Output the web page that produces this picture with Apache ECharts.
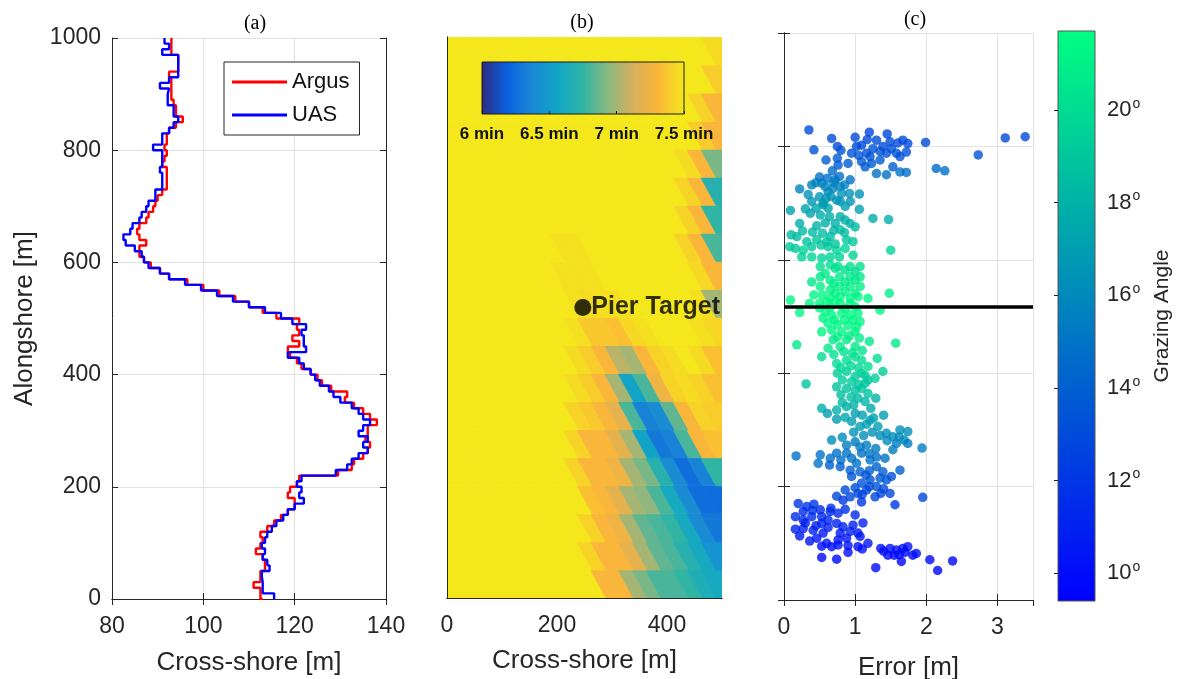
<!DOCTYPE html>
<html>
<head>
<meta charset="utf-8">
<script src="https://cdn.jsdelivr.net/npm/echarts@6/dist/echarts.min.js"></script>
<style>
html, body { margin: 0; padding: 0; background: #fff; }
#chart { width: 1179px; height: 679px; }
</style>
</head>
<body>
<div id="chart"></div>
<script>
// ---- panel (a): shoreline profiles, sampled every 10 m alongshore ----
var alongshore = [0,10,20,30,40,50,60,70,80,90,100,110,120,130,140,150,160,170,180,190,
    200,210,220,230,240,250,260,270,280,290,300,310,320,330,340,350,360,370,380,390,
    400,410,420,430,440,450,460,470,480,490,500,510,520,530,540,550,560,570,580,590,
    600,610,620,630,640,650,660,670,680,690,700,710,720,730,740,750,760,770,780,790,
    800,810,820,830,840,850,860,870,880,890,900,910,920,930,940,950,960,970,980,990,1000];
var argus = [113,112.5,112.5,111,112.5,112.5,113.5,113.5,113,111.5,112.5,113,112.5,114,115.5,117,118.5,120,120,118.5,
    119,120.5,121,129.5,132.5,133,135,136,136.5,135.5,136,136,138,136.5,135,133,131,131.5,128,126,
    125,123.5,121.5,120.5,119,118.5,121,119.5,121,120.5,121,116,113,110,107,103.5,100,96.5,92.5,90.5,
    88.5,87,86,86,87.5,86,85.5,86,87.5,88,89,89.5,90,91,92,92,92,92,91,91.5,
    92,91.5,92,92,92.5,94,95.5,94,94,93.5,93,93,93,93,92.5,94.5,94.5,94.5,93,93,93];
var uas = [115.5,115.5,113,113,112.8,112.8,114.5,114,113,113.5,112.8,113.5,114,115,116,117.5,118.5,120,122,121,
    121.5,120.5,121.5,129,131.5,132.5,134,136,135,136,134,135,136.5,135,134,132.5,130,128.5,127.5,125.5,
    124.5,123.5,122,121,118.5,122.5,122,122,121.5,122.5,119.5,117,113.5,110,106.5,103,99.5,96,92.5,90.5,
    88,87,86.5,85,83,82.5,84,84.5,86,86.5,87.5,88,89.5,89.5,91,91,91,90.5,91,91,
    91,89,91,91,92.5,93.5,94.5,93.5,93.5,92.2,92.2,92.5,90.5,92.5,94.5,94.5,94.5,94.5,91,92.5,91.5];

// ---- panel (b): arrival time field [min], cells 25 m cross-shore x 50 m alongshore ----
var cellCrossShore = [0,25,50,75,100,125,150,175,200,225,250,275,300,325,350,375,400,425,450,475];
var cellAlongshore = [0,50,100,150,200,250,300,350,400,450,500,550,600,650,700,750,800,850,900,950];
var timeRows = [
    [7.5,7.5,7.5,7.5,7.5,7.5,7.5,7.5,7.5,7.5,7.5,7.3,7.3,7.0,6.9,6.8,6.8,6.75,6.65,6.6],
    [7.5,7.5,7.5,7.5,7.5,7.5,7.5,7.5,7.5,7.5,7.42,7.3,7.3,7.2,7.0,6.85,6.8,6.7,6.6,6.45],
    [7.5,7.5,7.5,7.5,7.5,7.5,7.5,7.5,7.5,7.5,7.42,7.3,7.25,7.0,6.85,6.8,6.75,6.6,6.4,6.3],
    [7.5,7.5,7.5,7.5,7.5,7.5,7.5,7.5,7.5,7.5,7.35,7.3,7.2,7.0,6.95,6.8,6.6,6.4,6.25,6.25],
    [7.5,7.5,7.5,7.5,7.5,7.5,7.5,7.5,7.5,7.42,7.3,7.3,7.25,7.0,6.9,6.7,6.4,6.25,6.35,6.75],
    [7.5,7.5,7.5,7.5,7.5,7.5,7.5,7.5,7.5,7.42,7.3,7.3,7.2,7.0,6.55,6.3,6.35,6.8,7.3,7.35],
    [7.5,7.5,7.5,7.5,7.5,7.5,7.5,7.5,7.5,7.42,7.38,7.3,7.2,6.8,6.35,6.4,6.85,7.3,7.42,7.4],
    [7.5,7.5,7.5,7.5,7.5,7.5,7.5,7.5,7.5,7.45,7.4,7.3,7.0,6.55,6.8,7.25,7.42,7.45,7.42,7.35],
    [7.5,7.5,7.5,7.5,7.5,7.5,7.5,7.5,7.5,7.45,7.4,7.3,7.05,7.0,7.3,7.42,7.45,7.5,7.45,7.35],
    [7.5,7.5,7.5,7.5,7.5,7.5,7.5,7.5,7.5,7.47,7.38,7.38,7.35,7.44,7.47,7.5,7.5,7.5,7.47,7.44],
    [7.5,7.5,7.5,7.5,7.5,7.5,7.5,7.5,7.5,7.47,7.45,7.47,7.47,7.5,7.5,7.5,7.5,7.5,7.47,7.0],
    [7.5,7.5,7.5,7.5,7.5,7.5,7.5,7.5,7.47,7.47,7.47,7.5,7.5,7.5,7.5,7.5,7.5,7.5,7.44,7.3],
    [7.5,7.5,7.5,7.5,7.5,7.5,7.5,7.5,7.47,7.47,7.5,7.5,7.5,7.5,7.5,7.5,7.5,7.42,7.3,6.8],
    [7.5,7.5,7.5,7.5,7.5,7.5,7.5,7.5,7.5,7.5,7.5,7.5,7.5,7.5,7.5,7.5,7.5,7.42,7.3,6.75],
    [7.5,7.5,7.5,7.5,7.5,7.5,7.5,7.5,7.5,7.5,7.5,7.5,7.5,7.5,7.5,7.5,7.5,7.42,7.3,6.7],
    [7.5,7.5,7.5,7.5,7.5,7.5,7.5,7.5,7.5,7.5,7.5,7.5,7.5,7.5,7.5,7.5,7.5,7.45,7.3,6.9],
    [7.5,7.5,7.5,7.5,7.5,7.5,7.5,7.5,7.5,7.5,7.5,7.5,7.5,7.5,7.5,7.5,7.5,7.5,7.4,7.3],
    [7.5,7.5,7.5,7.5,7.5,7.5,7.5,7.5,7.5,7.5,7.5,7.5,7.5,7.5,7.5,7.5,7.5,7.5,7.42,7.3],
    [7.5,7.5,7.5,7.5,7.5,7.5,7.5,7.5,7.5,7.5,7.5,7.5,7.5,7.5,7.5,7.5,7.5,7.5,7.5,7.4],
    [7.5,7.5,7.5,7.5,7.5,7.5,7.5,7.5,7.5,7.5,7.5,7.5,7.5,7.5,7.5,7.5,7.5,7.5,7.5,7.45]
];
var timeTicks = [6, 6.5, 7, 7.5];
var pierTarget = [247, 518];

// ---- panel (c): [error m, alongshore m, grazing angle deg] ----
var errorPoints = [
    [0.35,829,13.0],[0.67,814,13.0],[0.42,794,13.3],[0.75,800,13.0],[0.59,776,13.8],[0.75,779,13.8],[0.76,767,13.8],[0.90,770,13.8],
    [1.02,800,13.0],[1.09,802,13.0],[1.17,812,13.0],[1.30,811,13.0],[0.95,788,13.3],[1.16,788,13.3],[1.09,773,13.8],[1.14,764,13.8],
    [1.23,770,13.8],[1.30,752,14.8],[1.44,750,14.8],[1.49,808,13.0],[1.51,796,13.3],[1.58,788,13.3],[1.44,788,13.3],[1.35,791,13.3],
    [1.67,811,13.0],[1.74,805,13.0],[1.72,790,13.3],[1.63,782,13.3],[1.53,764,13.8],[1.63,755,14.8],[1.72,754,14.8],[1.99,807,13.0],
    [2.14,761,14.5],[2.26,757,14.8],[2.73,785,13.3],[3.11,815,13.0],[3.39,817,13.0],[1.21,782,13.3],[1.39,800,13.0],
    [0.80,793,13.3],[1.25,796,13.3],[1.05,784,13.5],[1.35,776,13.8],[1.60,806,13.0],[1.45,822,12.8],[1.20,825,12.8],[1.00,816,13.0],
    [0.22,725,15.8],[0.39,732,15.8],[0.45,736,15.8],[0.53,735,15.8],[0.61,744,14.8],[0.72,741,14.8],[0.78,747,14.8],[0.58,729,15.8],
    [0.62,720,15.8],[0.69,726,15.8],[0.79,729,15.8],[0.93,741,14.8],[0.92,717,16.5],[0.81,717,16.5],[0.74,705,16.5],[0.59,708,16.5],
    [0.50,711,16.5],[0.39,703,16.5],[0.45,691,17.2],[0.55,697,17.2],[0.62,691,17.2],[0.79,703,16.5],[0.93,703,16.5],[1.06,716,16.5],
    [1.06,689,17.2],[0.09,687,17.2],[0.37,682,17.2],[0.51,679,17.8],[0.58,665,17.8],[0.64,676,17.8],[0.72,664,17.8],[0.79,676,17.8],
    [0.86,670,17.8],[0.93,664,17.8],[1.00,658,18.4],[1.25,673,17.8],[1.47,671,17.8],[0.10,644,18.4],[0.18,641,18.4],[0.26,651,18.4],
    [0.40,649,18.4],[0.54,647,18.4],[0.65,641,18.4],[0.79,653,18.4],[0.88,635,19.0],[0.97,632,19.0],[0.08,623,19.0],[0.16,620,19.0],
    [0.27,617,19.6],[0.39,623,19.0],[0.52,626,19.0],[0.62,623,19.0],[0.74,617,19.6],[0.86,620,19.6],[0.97,608,19.6],[1.50,617,19.6],
    [0.25,605,19.6],[0.39,605,19.6],[0.53,603,19.6],[0.65,605,19.6],[0.78,605,19.6],
    [0.30,690,17.2],[0.22,664,17.8],[0.46,660,18.0],[0.70,652,18.2],[0.85,648,18.4],[0.32,632,18.8],[0.46,636,18.8],[0.60,632,18.8],
    [0.72,628,19.0],[0.34,715,16.5],[0.66,712,16.5],[0.86,694,17.0],[0.70,736,15.6],[0.85,732,15.6],[0.50,746,14.8],[0.68,757,14.5],
    [0.55,700,16.8],
    [0.51,588,20.2],[0.65,591,20.2],[0.76,588,20.2],[0.93,588,20.2],[1.07,588,20.2],[0.39,561,20.7],[0.51,570,20.7],[0.65,564,20.7],
    [0.78,570,20.7],[0.93,570,20.7],[1.07,570,20.7],[0.51,553,21.0],[0.65,547,21.0],[0.78,553,21.0],[0.93,553,21.0],[1.07,553,21.0],
    [0.09,529,21.3],[0.42,538,21.3],[0.54,538,21.3],[0.65,532,21.3],[0.79,535,21.3],[0.93,532,21.3],[1.04,535,21.3],[1.18,532,21.3],
    [1.48,541,21.0],[0.36,523,21.3],[0.50,523,21.3],[0.65,517,21.3],[0.79,523,21.3],[0.93,523,21.3],[0.22,507,21.3],[0.50,515,21.3],
    [0.67,503,21.3],[0.81,506,21.3],[0.93,503,21.3],[1.04,506,21.3],[1.35,511,21.3],[0.55,497,21.2],[0.71,494,21.2],[0.85,494,21.2],
    [0.97,494,21.2],[1.07,491,21.2],[0.53,473,21.2],[0.67,476,21.2],[0.81,473,21.2],[1.00,473,21.2],
    [0.72,585,20.2],[0.86,582,20.2],[1.00,579,20.2],[0.70,558,21.0],[0.86,561,20.7],[1.00,564,20.7],[0.58,576,20.7],[0.72,541,21.0],
    [0.86,544,21.0],[1.00,541,21.0],[0.60,526,21.3],[0.72,526,21.3],[0.86,514,21.3],[1.00,517,21.3],[0.58,509,21.3],[0.75,486,21.2],
    [0.90,484,21.2],[1.02,482,21.2],[0.62,488,21.2],[0.75,464,21.0],[0.92,466,21.0],[1.06,462,21.0],
    [0.18,450,20.7],[0.53,429,20.0],[0.62,444,20.7],[0.69,459,20.7],[0.79,447,20.7],[0.88,459,20.7],[1.00,447,20.7],[1.20,456,20.7],
    [1.57,453,20.7],[0.74,417,20.0],[0.88,423,20.0],[1.00,429,20.0],[1.09,423,20.0],[1.18,412,20.0],[1.31,426,20.0],[1.39,403,19.4],
    [0.75,400,19.4],[0.88,403,19.4],[1.00,394,19.4],[1.09,400,19.4],[1.18,388,18.8],[1.28,391,19.4],[0.31,381,18.8],[0.74,376,18.8],
    [0.88,373,18.8],[1.00,370,18.8],[1.09,373,18.8],[1.18,364,18.8],[1.29,356,18.0],[0.53,338,18.0],[0.61,329,17.0],[0.74,335,18.0],
    [0.88,341,18.0],[1.00,329,17.0],[1.10,326,17.0],[1.21,317,17.0],[1.32,306,17.0],[1.40,326,17.0],[0.74,319,17.0],[0.95,315,17.0],
    [1.07,306,17.0],
    [0.84,438,20.3],[0.96,436,20.3],[1.10,440,20.3],[0.70,433,20.3],[0.80,410,19.8],[0.94,413,19.8],[1.05,409,19.8],[1.14,396,19.4],
    [0.82,388,19.2],[0.95,385,19.2],[1.05,380,19.0],[1.14,382,19.0],[0.80,362,18.6],[0.94,358,18.6],[1.04,356,18.4],[1.14,350,18.2],
    [0.82,348,18.2],[0.98,344,18.0],[1.22,338,17.6],[0.86,322,17.4],[1.16,310,17.0],[1.26,321,17.2],
    [1.44,294,16.2],[1.53,288,16.2],[1.63,300,16.2],[1.74,297,16.2],[1.69,282,16.2],[1.74,276,15.4],[1.58,276,15.4],
    [0.67,282,16.2],[0.88,273,15.4],[1.00,279,15.4],[1.07,270,15.4],[1.16,273,15.4],[1.29,267,15.4],[1.53,265,15.4],[1.94,268,15.4],
    [1.45,281,16.0],[1.62,287,16.0],[1.35,290,16.2],[1.24,296,16.4],[1.12,290,16.2],[0.98,296,16.4],[0.82,287,16.0],[1.20,258,15.0],
    [1.42,250,14.8],[1.30,252,14.8],
    [0.17,254,14.8],[0.51,256,14.8],[0.65,250,14.8],[0.74,259,14.8],[0.80,247,14.8],[0.88,259,14.8],[0.95,250,14.8],[1.02,241,14.8],
    [1.09,259,14.8],[1.21,247,14.8],[0.48,241,14.8],[0.64,238,14.0],[0.79,235,14.0],[0.93,229,14.0],[1.07,226,14.0],[1.30,235,14.0],
    [1.39,226,14.0],[1.51,218,13.4],[1.63,229,14.0],[1.44,212,13.4],[0.95,218,13.4],[1.09,206,13.4],[1.21,212,13.4],[1.30,200,13.4],
    [1.20,228,14.0],[1.15,220,13.6],[1.35,215,13.6],[1.20,200,13.2],[1.00,198,13.2],[1.40,196,13.0],[1.10,186,12.8],[1.36,188,12.8],
    [0.86,194,13.0],
    [1.16,194,12.8],[1.04,188,12.8],[1.28,182,12.8],[1.49,188,12.8],[0.74,183,12.8],[0.83,176,12.0],[0.93,182,12.8],[1.09,173,12.0],
    [1.56,168,12.0],[1.95,181,12.8],[0.20,170,12.0],[0.32,165,12.0],[0.42,169,12.0],[0.27,156,11.4],[0.51,159,11.4],[0.65,156,11.4],
    [0.76,153,11.4],[0.16,147,11.4],[0.27,141,11.4],[0.39,147,11.4],[0.53,147,11.4],[0.62,141,11.4],[0.16,125,10.9],[0.27,126,10.9],
    [0.41,123,10.9],[0.53,135,10.9],[0.74,135,10.9],[0.83,129,10.9],[0.97,132,10.9],[1.11,136,10.9],[0.79,118,10.5],[0.93,121,10.9],
    [1.04,118,10.5],[0.46,109,10.5],[0.55,118,10.5],[0.76,106,10.5],[0.88,109,10.5],[1.07,112,10.5],[1.18,100,10.5],[0.53,95,10.1],
    [0.30,136,11.0],[0.45,131,11.0],[0.62,128,11.0],[0.22,113,10.6],[0.36,104,10.4],[0.60,100,10.4],[0.90,96,10.2],[0.66,162,11.6],
    [0.86,160,11.6],[1.00,150,11.4],[0.40,158,11.6],
    [0.67,94,10.1],[0.76,97,10.1],[1.04,94,10.1],[1.36,91,10.1],[1.49,91,10.1],[1.58,88,10.1],[1.67,91,10.1],[1.74,94,10.1],
    [1.46,79,9.8],[1.55,79,9.8],[1.65,68,9.8],[1.81,79,9.8],[1.86,82,10.1],[0.53,75,9.8],[0.74,72,9.8],[2.05,71,9.8],
    [2.37,69,9.8],[1.29,57,9.8],[2.16,52,9.8],
    [1.40,86,10.0],[1.62,80,9.9],[1.70,84,9.9],[0.90,84,10.0],[1.10,90,10.0]
];
var angleTicks = [10, 12, 14, 16, 18, 20];
var angleMin = 9.4, angleMax = 21.7;

var font = "'Liberation Sans', Arial, Helvetica, sans-serif";
var ink = '#262626';
var parula = ['#2e2a80', '#0a60e0', '#1a88d5', '#10a6c6', '#30b4a4', '#8cb880', '#d8b05c', '#fbb638', '#f4e81c'];
var parulaStops = [0, 0.125, 0.25, 0.375, 0.5, 0.625, 0.75, 0.87, 1];

function zip(xs, ys) {
    var out = [];
    for (var i = 0; i < xs.length; i++) out.push([xs[i], ys[i]]);
    return out;
}

var heatData = [];
for (var r = 0; r < timeRows.length; r++) {
    for (var c = 0; c < timeRows[r].length; c++) {
        heatData.push([cellCrossShore[c], cellAlongshore[r], timeRows[r][c], c]);
    }
}

// cells are drawn as parallelograms leaning with the streaks (same centre as the cell)
var lean = 28;
function renderCell(params, api) {
    var x0 = api.value(0), y0 = api.value(1), col = api.value(3);
    var bl = x0 + lean / 2, br = x0 + 25 + lean / 2;
    var tl = x0 - lean / 2, tr = x0 + 25 - lean / 2;
    if (col === 0) { bl = -60; tl = -60; }
    if (col === 19) { br = 560; tr = 560; }
    var pts = [
        api.coord([bl, y0]), api.coord([br, y0]),
        api.coord([tr, y0 + 50]), api.coord([tl, y0 + 50])
    ];
    var color = api.visual('color');
    return {
        type: 'polygon',
        shape: { points: pts },
        style: { fill: color, stroke: color, lineWidth: 0.8 }
    };
}

function boxAxis(grid, pos, min, max, interval, extra) {
    var ax = {
        gridIndex: grid, type: 'value', position: pos, min: min, max: max, interval: interval,
        axisLine: { show: true, lineStyle: { color: ink, width: 1 } },
        axisTick: { show: true, inside: true, length: 6, lineStyle: { color: ink } },
        axisLabel: { show: false },
        splitLine: { show: false }
    };
    for (var k in extra) ax[k] = extra[k];
    return ax;
}

var nameStyle = { color: ink, fontSize: 26, fontFamily: font };
var gridLine = { show: true, lineStyle: { color: '#e2e2e2', width: 1 } };
function plain(v) { return String(v); }

var gradH = { type: 'linear', x: 0, y: 0, x2: 1, y2: 0, colorStops: [] };
for (var s = 0; s < parula.length; s++) gradH.colorStops.push({ offset: parulaStops[s], color: parula[s] });

var chart = echarts.init(document.getElementById('chart'), null, { renderer: 'canvas' });
var option = {
    animation: false,
    backgroundColor: '#fff',
    title: [
        { text: '(a)', left: 250, top: 9, textAlign: 'center', textStyle: { fontFamily: "'Liberation Serif', 'Times New Roman', serif", fontSize: 20, fontWeight: 'normal', color: '#000' } },
        { text: '(b)', left: 577, top: 8, textAlign: 'center', textStyle: { fontFamily: "'Liberation Serif', 'Times New Roman', serif", fontSize: 20, fontWeight: 'normal', color: '#000' } },
        { text: '(c)', left: 910, top: 5, textAlign: 'center', textStyle: { fontFamily: "'Liberation Serif', 'Times New Roman', serif", fontSize: 20, fontWeight: 'normal', color: '#000' } }
    ],
    legend: {
        data: ['Argus', 'UAS'], orient: 'vertical', left: 224, top: 62,
        backgroundColor: '#fff', borderColor: ink, borderWidth: 1,
        padding: [9, 10, 9, 8], itemGap: 11, itemWidth: 55, itemHeight: 3, icon: 'rect',
        textStyle: { fontSize: 22, fontFamily: font, color: '#111' }
    },
    grid: [
        { left: 112, top: 38, width: 274, height: 561, outerBoundsMode: 'none' },
        { left: 447, top: 37, width: 275, height: 561, outerBoundsMode: 'none' },
        { left: 784, top: 33, width: 249, height: 567, outerBoundsMode: 'none' },
        { left: 482, top: 62, width: 202, height: 52, outerBoundsMode: 'none', show: true, z: 5,
          backgroundColor: gradH, borderColor: '#1a1a1a', borderWidth: 1 },
        { left: 1058, top: 31, width: 37, height: 570, outerBoundsMode: 'none', show: true,
          backgroundColor: { type: 'linear', x: 0, y: 1, x2: 0, y2: 0, colorStops: [{ offset: 0, color: '#0000ff' }, { offset: 1, color: '#00ff80' }] },
          borderColor: '#555', borderWidth: 1 }
    ],
    xAxis: [
        boxAxis(0, 'bottom', 80, 140, 20, {
            axisLabel: { show: true, margin: 16, color: ink, fontSize: 23, fontFamily: font, formatter: plain },
            splitLine: gridLine,
            name: 'Cross-shore [m]', nameLocation: 'middle', nameGap: 51, nameTextStyle: nameStyle
        }),
        boxAxis(0, 'top', 80, 140, 20, {}),
        boxAxis(1, 'bottom', 0, 500, 200, {
            z: 10, axisTick: { show: false },
            axisLabel: { show: true, margin: 16, color: ink, fontSize: 23, fontFamily: font, showMaxLabel: false, formatter: plain },
            name: 'Cross-shore [m]', nameLocation: 'middle', nameGap: 50, nameTextStyle: nameStyle
        }),
        boxAxis(1, 'top', 0, 500, 100, { z: 10, axisTick: { show: false } }),
        boxAxis(2, 'bottom', 0, 3.5, 1, {
            axisLabel: { show: true, margin: 16, color: ink, fontSize: 23, fontFamily: font, showMaxLabel: false, formatter: plain },
            splitLine: gridLine,
            name: 'Error [m]', nameLocation: 'middle', nameGap: 55, nameTextStyle: nameStyle
        }),
        boxAxis(2, 'top', 0, 3.5, 1, {}),
        {
            gridIndex: 3, type: 'value', min: timeTicks[0], max: timeTicks[3], interval: 0.5, z: 6,
            axisLine: { show: false },
            axisTick: { show: true, inside: true, length: 3, lineStyle: { color: '#111' } },
            axisLabel: { show: true, margin: 12, color: '#111', fontSize: 17, fontWeight: 'bold', fontFamily: font,
                formatter: function (v) { return v + ' min'; } },
            splitLine: { show: false }
        },
        { gridIndex: 4, type: 'value', min: 0, max: 1, show: false }
    ],
    yAxis: [
        boxAxis(0, 'left', 0, 1000, 200, {
            axisLabel: { show: true, margin: 11, color: ink, fontSize: 23, fontFamily: font, formatter: plain },
            splitLine: gridLine,
            name: 'Alongshore [m]', nameLocation: 'middle', nameGap: 74, nameTextStyle: nameStyle
        }),
        boxAxis(0, 'right', 0, 1000, 200, {}),
        boxAxis(1, 'left', 0, 1000, 200, { z: 10, axisTick: { show: false } }),
        boxAxis(1, 'right', 0, 1000, 200, { z: 10, axisTick: { show: false } }),
        boxAxis(2, 'left', 0, 1000, 200, { splitLine: gridLine }),
        boxAxis(2, 'right', 0, 1000, 200, {}),
        { gridIndex: 3, type: 'value', min: 0, max: 1, show: false },
        {
            gridIndex: 4, type: 'value', position: 'right', min: angleMin, max: angleMax,
            axisLine: { show: false },
            axisTick: { show: true, inside: true, length: 4, customValues: angleTicks, lineStyle: { color: ink } },
            axisLabel: {
                show: true, margin: 12, customValues: angleTicks,
                formatter: function (v) { return '{n|' + v + '}{s|o}'; },
                rich: {
                    n: { fontSize: 22, color: ink, fontFamily: font },
                    s: { fontSize: 14, color: ink, fontFamily: font, padding: [0, 0, 12, 1] }
                }
            },
            splitLine: { show: false },
            name: 'Grazing Angle', nameLocation: 'middle', nameGap: 57, nameRotate: 90,
            nameTextStyle: { color: ink, fontSize: 21, fontFamily: font }
        }
    ],
    visualMap: [
        {
            type: 'continuous', show: false, seriesIndex: 2, dimension: 2, min: timeTicks[0], max: timeTicks[3],
            inRange: { color: parula }
        },
        {
            type: 'continuous', show: false, seriesIndex: 4, dimension: 2, min: angleMin, max: angleMax,
            inRange: { color: ['#0000ff', '#00ff80'] }
        }
    ],
    series: [
        {
            name: 'Argus', type: 'line', xAxisIndex: 0, yAxisIndex: 0, step: 'end',
            symbol: 'none', data: zip(argus, alongshore),
            lineStyle: { color: '#ff0000', width: 2.4 }, itemStyle: { color: '#ff0000' }
        },
        {
            name: 'UAS', type: 'line', xAxisIndex: 0, yAxisIndex: 0, step: 'end',
            symbol: 'none', data: zip(uas, alongshore),
            lineStyle: { color: '#0000ff', width: 2.4 }, itemStyle: { color: '#0000ff' }
        },
        {
            name: 'arrival', type: 'custom', xAxisIndex: 2, yAxisIndex: 2,
            renderItem: renderCell, data: heatData, clip: true, silent: true,
            encode: { x: 0, y: 1 }
        },
        {
            name: 'pier', type: 'scatter', xAxisIndex: 2, yAxisIndex: 2, z: 4,
            symbolSize: 17, itemStyle: { color: '#000' },
            data: [pierTarget],
            label: { show: true, position: 'right', distance: 0, formatter: 'Pier Target',
                fontSize: 25, fontWeight: 'bold', color: '#000', fontFamily: font }
        },
        {
            name: 'error', type: 'scatter', xAxisIndex: 4, yAxisIndex: 4,
            symbolSize: 9.5, data: errorPoints,
            markLine: {
                silent: true, symbol: 'none', label: { show: false },
                lineStyle: { color: '#000', width: 3.5, type: 'solid' },
                data: [{ yAxis: pierTarget[1] }]
            }
        }
    ]
};
chart.setOption(option);
</script>
</body>
</html>
